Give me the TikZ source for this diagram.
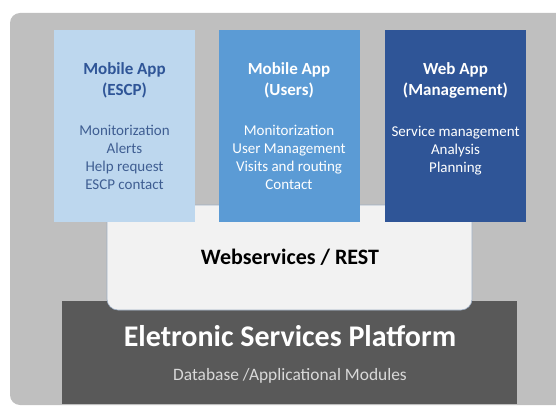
\documentclass[tikz,border=0pt]{standalone}
\usepackage{fontspec}
\setmainfont{Carlito}
\definecolor{frame}{HTML}{BFBFBF}
\definecolor{paleblue}{HTML}{BDD7EE}
\definecolor{midblue}{HTML}{5B9BD5}
\definecolor{deepblue}{HTML}{2F5597}
\definecolor{inkblue}{HTML}{3F5E92}
\definecolor{wsfill}{HTML}{F2F2F2}
\definecolor{wsedge}{HTML}{9DAEC4}
\definecolor{platform}{HTML}{595959}
\definecolor{subgray}{HTML}{D9D9D9}
\tikzset{
  appbox/.style={draw=none, minimum width=141pt, minimum height=192pt, inner sep=0pt},
  apptitle/.style={align=center, inner sep=0pt, font=\fontsize{17}{21}\selectfont\bfseries},
  appbody/.style={align=center, inner sep=0pt, font=\fontsize{15}{18}\selectfont},
}
\begin{document}
\begin{tikzpicture}[x=1pt,y=1pt]
\useasboundingbox (0,0) rectangle (556,410);
\begin{scope}
\clip (0,0) rectangle (556,410);
% outer frame
\fill[frame, rounded corners=10pt] (10,5) rectangle (580,397);
\end{scope}
% platform base
\node[fill=platform, minimum width=455pt, minimum height=103pt, inner sep=0pt] (plat) at (289.5,57.5) {};
% web services layer with rounded bottom corners
\filldraw[fill=wsfill, draw=wsedge, line width=0.6pt]
  (107,205) -- (107,110) [rounded corners=11pt] -- (107,100) -- (472,100) [sharp corners] -- (472,205) -- cycle;
\node[font=\fontsize{22}{26}\selectfont\bfseries, text=black] (ws) at (290,153) {Webservices / REST};
% platform text
\node[font=\fontsize{30}{36}\selectfont\bfseries, text=white] (plattitle) at (290,74) {Eletronic Services Platform};
\node[font=\fontsize{17.4}{20}\selectfont, text=subgray] (platsub) at (290,34) {Database /Applicational Modules};
% application boxes
\node[appbox, fill=paleblue] (escp) at (124.5,284) {};
\node[appbox, fill=midblue] (users) at (289,284) {};
\node[appbox, fill=deepblue] (mgmt) at (455.5,284) {};
% box texts
\node[apptitle, text=deepblue] (escpT) at (124.5,329.5) {Mobile App\\(ESCP)};
\node[appbody, text=inkblue] (escpB) at (124.5,253) {Monitorization\\Alerts\\Help request\\ESCP contact};
\node[apptitle, text=white] (usersT) at (289,329.5) {Mobile App\\(Users)};
\node[appbody, text=white] (usersB) at (289,253) {Monitorization\\User Management\\Visits and routing\\Contact};
\node[apptitle, text=white] (mgmtT) at (455.5,329.5) {Web App\\(Management)};
\node[appbody, text=white] (mgmtB) at (455.5,259.5) {Service management\\Analysis\\Planning};
\end{tikzpicture}
\end{document}
